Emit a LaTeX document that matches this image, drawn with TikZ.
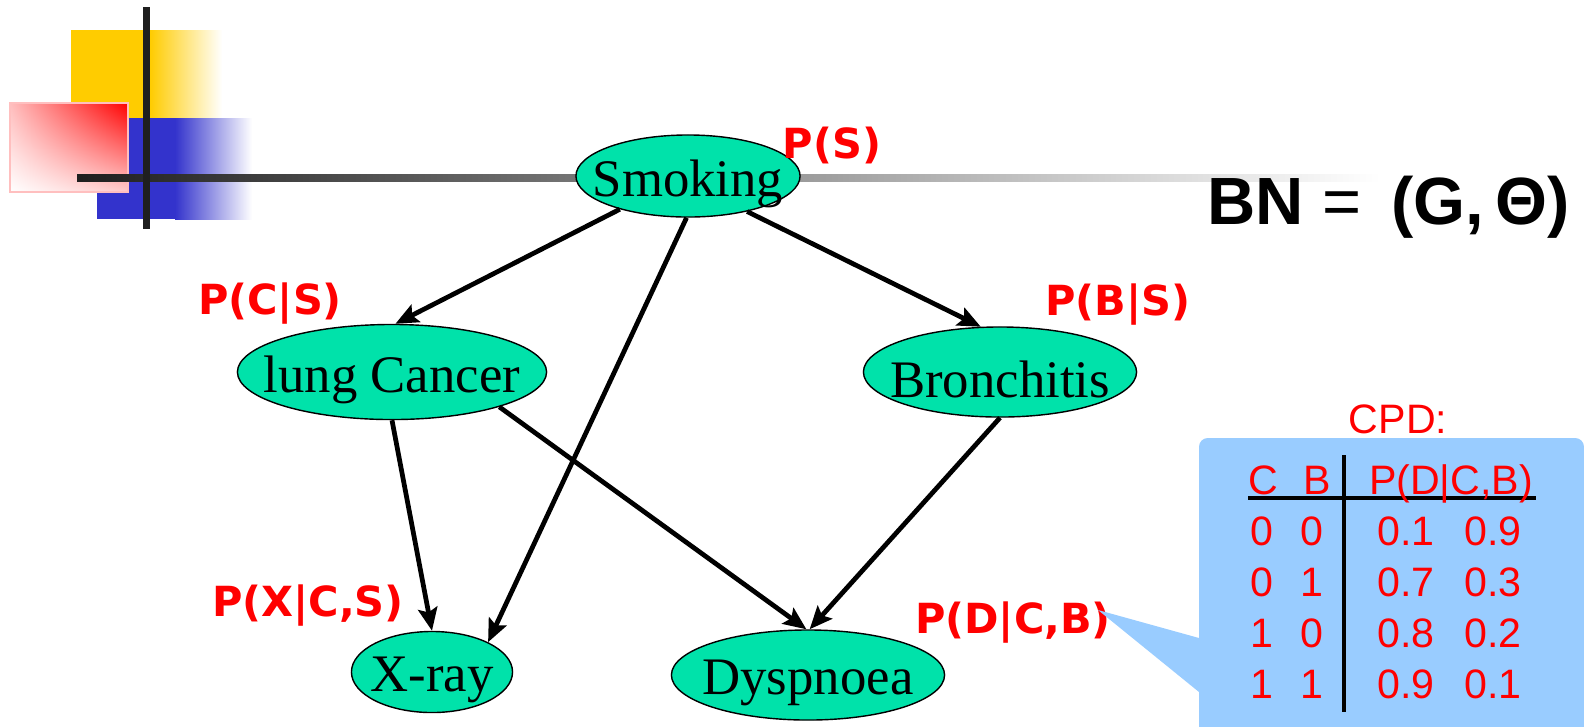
\documentclass[tikz,border=0pt]{standalone}
\usepackage{fontspec}
\setmainfont{Liberation Serif}
\newfontfamily\labfont{DejaVu Sans}
\newfontfamily\tabfont{Liberation Sans}
\usetikzlibrary{arrows.meta,shapes.geometric,shadings}
\definecolor{nodegreen}{RGB}{0,226,170}
\definecolor{cpdblue}{RGB}{153,204,255}
\definecolor{decoyellow}{RGB}{255,204,0}
\definecolor{decoblue}{RGB}{51,51,204}
\definecolor{decopink}{RGB}{255,190,190}
\newcommand{\vartext}[1]{\makebox[0pt]{\raisebox{-2.2pt}[\height][\depth]{#1}}}

\begin{document}
\begin{tikzpicture}[x=0.01cm, y=-0.01cm,
    var/.style={draw, ellipse, fill=nodegreen, inner sep=0pt, font=\fontsize{15}{18}\selectfont},
    prob/.style={text=red, font=\labfont\bfseries\fontsize{11.8}{14}\selectfont},
    cpdtxt/.style={text=red, anchor=base, font=\tabfont\fontsize{11.7}{14}\selectfont},
    edge/.style={-{Stealth[length=6.5pt, width=5.5pt, inset=1.2pt]}, line width=1.35pt}]
    \useasboundingbox (0,0) rectangle (1584,726);

    % decoration top left
    \fill[decoyellow] (71,30) rectangle (150,119);
    \shade[left color=decoyellow, right color=white] (150,30) rectangle (222,119);
    \fill[decoblue] (97,118) rectangle (175,219);
    \shade[left color=decoblue, right color=white] (175,118) rectangle (252,219);
    \shade[upper left=decopink, upper right=red, lower right=red!20, lower left=white, draw=red!25] (10,103) rectangle (128,192);
    \shade[left color=black!88, right color=white] (77,174.5) rectangle (1380,181.5);
    \fill[black!88] (143,7) rectangle (150,229);

    % network
    \node[var, minimum width=2.24cm, minimum height=0.82cm] (smoke) at (688,176) {\vartext{Smoking}};
    \node[var, minimum width=3.09cm, minimum height=0.95cm] (lung) at (392,372) {\vartext{lung Cancer}};
    \node[var, minimum width=2.73cm, minimum height=0.90cm] (bron) at (1000,372) {\vartext{Bronchitis}};
    \node[var, minimum width=1.61cm, minimum height=0.81cm] (xray) at (432,672) {\vartext{X-ray}};
    \node[var, minimum width=2.73cm, minimum height=0.90cm] (dysp) at (808,675) {\vartext{Dyspnoea}};

    \draw[edge] (smoke.206) -- (lung.86);
    \draw[edge] (smoke.329) -- (bron.113);
    \draw[edge] (smoke.268) -- (xray.28);
    \draw[edge] (lung.270) -- (xray.90);
    \draw[edge] (lung.342) -- (dysp.92);
    \draw[edge] (bron.270) -- (dysp.88);

    \node[prob] (ps) at (832,145) {P(S)};
    \node[prob] (pcs) at (270,304) {P(C|S)};
    \node[prob] (pbs) at (1118,305) {P(B|S)};
    \node[prob] (pxcs) at (308,606) {P(X|C,S)};
    \node[prob] (pdcb) at (1013,623) {P(D|C,B)};

    \node[anchor=base west, font=\tabfont\fontsize{19}{22}\selectfont] (bn) at (1195,224) {\textbf{BN}\;=\;\,\textbf{(G,\,Θ)}};

    % CPD callout
    \coordinate (tip) at (1098,610);
    \fill[cpdblue] (tip) -- (1199,638) -- (1199,692) -- cycle;
    \fill[cpdblue, rounded corners=2.5pt] (1199,438) rectangle (1584,745);
    \node[cpdtxt] (cpd) at (1398,433) {CPD:};

    \draw[line width=1pt] (1248,498) -- (1536,498);
    \draw[line width=1.1pt] (1344,455) -- (1344,712);
    \node[cpdtxt] (hc) at (1263,494) {C};
    \node[cpdtxt] (hb) at (1317,494) {B};
    \node[cpdtxt] (hp) at (1451,494) {P(D|C,B)};
    \foreach \c/\b/\p/\q/\y in {0/0/0.1/0.9/545, 0/1/0.7/0.3/596, 1/0/0.8/0.2/647, 1/1/0.9/0.1/698} {
        \node[cpdtxt] (c\y) at (1262,\y) {\c};
        \node[cpdtxt] (b\y) at (1312,\y) {\b};
        \node[cpdtxt] (p\y) at (1406,\y) {\p};
        \node[cpdtxt] (q\y) at (1493,\y) {\q};
    }
\end{tikzpicture}
\end{document}
